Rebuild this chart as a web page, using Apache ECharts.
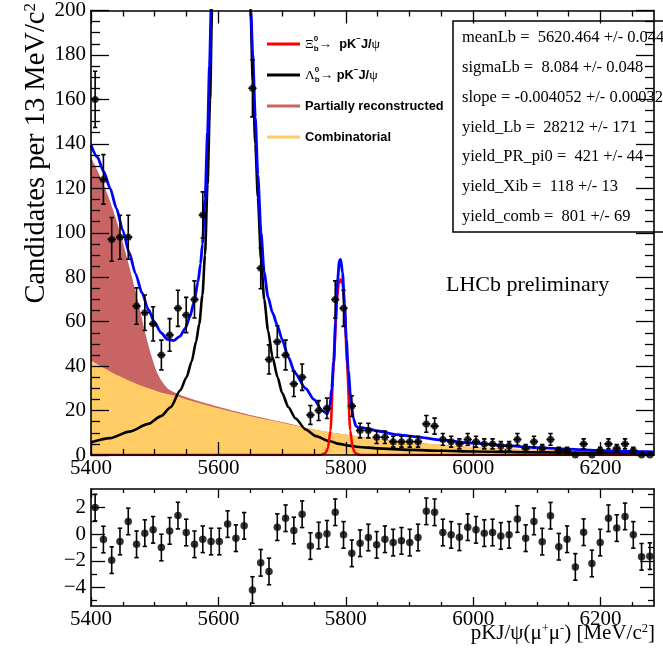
<!DOCTYPE html>
<html>
<head>
<meta charset="utf-8">
<script src="https://cdn.jsdelivr.net/npm/echarts@6/dist/echarts.min.js"></script>
<style>
  html, body { margin: 0; padding: 0; background: #fff; }
  #chart { width: 663px; height: 652px; }
</style>
</head>
<body>
<div id="chart"></div>
<script>
// Mass window and binning of the pK J/psi spectrum
const massMin = 5400;
const massMax = 6284;
const binWidth = 13;

// Candidates per 13 MeV bin
const counts = [
  160, 124, 97, 98, 98, 67, 64, 59, 45, 54,
  66, 63, 70, 108, 330, 2600, 7400, 3300, 290, 165,
  84, 43, 51, 45, 32, 35, 18, 20, 21, 70,
  66, 22, 11, 11, 8, 8, 6, 6, 6, 6,
  14, 13, 7, 6, 5, 7, 6, 5, 5, 4,
  4, 7, 3, 6, 3, 7, 2, 2, 0, 5,
  0, 2, 5, 3, 5, 2, 0, 0
];

// Pull of each bin with respect to the total fit
const pulls = [
  2.0, -0.4, -1.95, -0.55, 0.96, -0.76, 0.08, 0.33, -1.0, 0.25,
  1.4, 0.13, -0.76, -0.38, -0.55, -0.55, 0.76, -0.3, 0.63, -4.2,
  -2.15, -2.8, 0.53, 1.2, 0.28, 1.5, -0.89, -0.1, 0.03, 1.65,
  -0.05, -1.44, -0.68, -0.25, -0.8, -0.38, -0.63, -0.5, -0.63, -0.25,
  1.72, 1.65, 0.13, -0.05, -0.23, 0.53, 0.33, 0.08, 0.13, -0.13,
  -0.05, 1.14, -0.3, 0.96, -0.56, 1.39, -0.94, -0.38, -2.46, 0.15,
  -2.2, -0.63, 1.2, 0.46, 1.34, -0.05, -1.7, -1.65
];

// Total fit model
const totalMass = [
  5400, 5410, 5420, 5430, 5440, 5450, 5460, 5470, 5480, 5490,
  5500, 5510, 5520, 5530, 5540, 5548, 5555, 5562, 5568, 5572,
  5575, 5579, 5583, 5586, 5589, 5595, 5605, 5620, 5635, 5645,
  5651, 5654, 5658, 5662, 5667, 5672, 5678, 5685, 5693, 5700,
  5710, 5720, 5737, 5750, 5763, 5771, 5775, 5778, 5781, 5784,
  5787, 5790, 5792, 5795, 5798, 5801, 5804, 5808, 5812, 5816,
  5820, 5826, 5832, 5850, 5880, 5910, 5950, 6000, 6050, 6100,
  6150, 6200, 6250, 6284
];
const totalFit = [
  139.5, 134, 127.5, 120, 111, 101, 91, 81.5, 73, 65.5,
  59.5, 55, 52, 51.5, 53.5, 57, 62, 69, 78, 86,
  95, 115, 145, 175, 205, 330, 2500, 18000, 2500, 400,
  200, 180, 152, 126, 100, 82, 71, 64, 58, 52,
  44, 37, 30, 25, 20, 18.5, 22, 30, 42, 60,
  78, 87.5, 88, 82, 68, 52, 38, 25, 16.5, 13,
  12.3, 12.3, 12, 10.8, 9.2, 8.2, 6.8, 5.3, 4.2, 3.3,
  2.6, 2.0, 1.6, 1.4
];

// Lambda_b -> pK-J/psi component
const lbMass = [
  5400, 5430, 5460, 5490, 5510, 5525, 5540, 5550, 5558, 5565,
  5570, 5575, 5579, 5583, 5587, 5590, 5596, 5605, 5620, 5635,
  5645, 5650.5, 5654, 5658, 5662, 5667, 5672, 5678, 5685, 5693,
  5700, 5710, 5721, 5737, 5753, 5774, 5790, 5805, 5820, 5850,
  5900, 5950, 6000, 6100, 6200, 6284
];
const lbFit = [
  5.7, 7.6, 10.5, 14, 17.5, 21.5, 29, 35, 42, 51,
  59, 72, 90, 122, 160, 200, 340, 2500, 18000, 2500,
  380, 200, 168, 140, 116, 88, 70, 56, 44, 35,
  28, 21.5, 16.5, 11.5, 8.5, 6.3, 5.0, 4.2, 3.6, 3.0,
  2.3, 1.9, 1.6, 1.2, 0.9, 0.7
];

// Xi_b -> pK-J/psi component
const xibMass = [
  5400, 5760, 5768, 5772, 5776, 5781, 5786, 5789, 5792, 5795,
  5798, 5802, 5807, 5811, 5815, 5823, 6284
];
const xibFit = [
  0, 0, 0.8, 3, 11, 40, 70, 77, 79, 77,
  68, 41, 11, 3, 0.8, 0, 0
];

// Background components: combinatorial, and partially reconstructed drawn on top of it
const bkgMass = [
  5400, 5415, 5430, 5445, 5460, 5475, 5490, 5505, 5520, 5534,
  5550, 5600, 5650, 5700, 5750, 5800, 5850, 5900, 6000, 6100,
  6200, 6284
];
const combFit = [
  42.5, 40, 37.6, 35.4, 33.4, 31.6, 30, 28.6, 27.4, 26.5,
  25, 21, 17.5, 14.5, 11.5, 9.2, 7.2, 5.7, 3.6, 2.4,
  1.6, 1.1
];
const prFit = [
  91.5, 85, 76.5, 65.5, 51.5, 36, 19.5, 7.7, 2.6, 1.3,
  1.0, 0.7, 0.5, 0.3, 0, 0, 0, 0, 0, 0,
  0, 0
];

// Axis ticks
const massTicks = [5400, 5600, 5800, 6000, 6200];
const massMinorTicks = [5450, 5500, 5550, 5650, 5700, 5750, 5850, 5900, 5950, 6050, 6100, 6150, 6250];
const countTicks = [0, 20, 40, 60, 80, 100, 120, 140, 160, 180, 200];
const countMinorTicks = [5, 10, 15, 25, 30, 35, 45, 50, 55, 65, 70, 75, 85, 90, 95, 105, 110, 115,
  125, 130, 135, 145, 150, 155, 165, 170, 175, 185, 190, 195];
const pullTicks = [-4, -2, 0, 2];
const pullMinorTicks = [-5, -3, -1, 1, 3];
const pullRange = [-5.4, 3.4];

// Fit results
const paramLines = [
  'meanLb =  5620.464 +/- 0.044',
  'sigmaLb =  8.084 +/- 0.048',
  'slope = -0.004052 +/- 0.00032',
  'yield_Lb =  28212 +/- 171',
  'yield_PR_pi0 =  421 +/- 44',
  'yield_Xib =  118 +/- 13',
  'yield_comb =  801 +/- 69'
];

const SERIF = '"Liberation Serif", "Times New Roman", serif';
const SANS = '"Liberation Sans", Arial, sans-serif';
const C_XIB = '#ff0000', C_LB = '#000000', C_PR = '#c86464', C_COMB = '#ffcc66', C_TOT = '#0000ff';

const zip = (xs, ys) => xs.map((x, i) => [x, ys[i]]);
const binCenters = counts.map((_, i) => massMin + binWidth * (i + 0.5));
const pointData = counts.map((n, i) => [binCenters[i], n, Math.sqrt(n), n > 0 ? Math.sqrt(n) : 1.15]);
const pullData = pulls.map((p, i) => [binCenters[i], p, 1, 1]);
// upper edge of the partially reconstructed band sits on the combinatorial one
const prBand = bkgMass.map((m, i) => [m, combFit[i] + prFit[i]]);

const minusFmt = v => (v < 0 ? '\u2212' + Math.abs(v) : String(v));

// Four axes per dimension: labelled side (major + minor ticks) and mirrored side (major + minor)
function frameAxes(dim, gridIndex, range, major, minor, cfg) {
  const sides = dim === 'x' ? ['bottom', 'top'] : ['left', 'right'];
  const out = [];
  sides.forEach((side, s) => {
    [major, minor].forEach((ticks, m) => {
      out.push({
        type: 'value', gridIndex, min: range[0], max: range[1], position: side, z: 10,
        axisLine: { show: m === 0, onZero: false, lineStyle: { color: '#000', width: 1.6 } },
        axisTick: {
          show: true, inside: true, customValues: ticks,
          length: m === 0 ? cfg.majorLen : cfg.minorLen,
          lineStyle: { color: '#000', width: 1.3 }
        },
        axisLabel: Object.assign({
          show: s === 0 && m === 0, customValues: major,
          fontFamily: SERIF, color: '#000', formatter: minusFmt
        }, cfg.label),
        splitLine: { show: false },
        axisPointer: { show: false }
      });
    });
  });
  return out;
}

function errorBars(halfWidth, cap) {
  return function (params, api) {
    const x = api.value(0), y = api.value(1);
    const mid = api.coord([x, y]);
    const top = api.coord([x, y + api.value(3)]);
    const bot = api.coord([x, y - api.value(2)]);
    const st = { stroke: '#000', lineWidth: 1.6 };
    const kids = [
      { type: 'line', shape: { x1: mid[0], y1: top[1], x2: mid[0], y2: bot[1] }, style: st },
      { type: 'line', shape: { x1: mid[0] - cap, y1: top[1], x2: mid[0] + cap, y2: top[1] }, style: st },
      { type: 'line', shape: { x1: mid[0] - cap, y1: bot[1], x2: mid[0] + cap, y2: bot[1] }, style: st }
    ];
    if (halfWidth) {
      const l = api.coord([x - halfWidth, y]), r = api.coord([x + halfWidth, y]);
      kids.push({ type: 'line', shape: { x1: l[0], y1: mid[1], x2: r[0], y2: mid[1] }, style: st });
    }
    return { type: 'group', children: kids };
  };
}

const legendText = {
  xib: '{g|\u039E}{s0|0}{sb|b}{g|\u2192}  pK{sm|\u2212}J/{g|\u03C8}',
  lb: '{g|\u039B}{s0|0}{sb|b}{g|\u2192} pK{sm|\u2212}J/{g|\u03C8}',
  pr: 'Partially reconstructed',
  comb: 'Combinatorial'
};

const curve = (name, data, color, width, z) => ({
  name, type: 'line', xAxisIndex: 0, yAxisIndex: 0, data,
  smooth: 0.25, smoothMonotone: 'x', symbol: 'none', color,
  lineStyle: { width, color }, z
});

const chart = echarts.init(document.getElementById('chart'));

chart.setOption({
  animation: false,
  backgroundColor: '#fff',
  grid: [
    { left: 91, right: 9, top: 10, height: 445 },
    { left: 91, right: 9, top: 489, height: 117 }
  ],
  xAxis: [].concat(
    frameAxes('x', 0, [massMin, massMax], massTicks, massMinorTicks,
      { majorLen: 13, minorLen: 6, label: { fontSize: 21, margin: 3 } }),
    frameAxes('x', 1, [massMin, massMax], massTicks, massMinorTicks,
      { majorLen: 9, minorLen: 4, label: { fontSize: 21, margin: 3 } })
  ),
  yAxis: [].concat(
    frameAxes('y', 0, [0, 200], countTicks, countMinorTicks,
      { majorLen: 18, minorLen: 9, label: { fontSize: 21, margin: 5 } }),
    frameAxes('y', 1, pullRange, pullTicks, pullMinorTicks,
      { majorLen: 14, minorLen: 6, label: { fontSize: 21, margin: 5 } })
  ),
  legend: {
    orient: 'vertical', left: 262, top: 30, itemGap: 13,
    itemWidth: 33, itemHeight: 3, icon: 'rect', selectedMode: false,
    data: ['xib', 'lb', 'pr', 'comb'],
    formatter: name => legendText[name],
    textStyle: {
      fontFamily: SANS, fontWeight: 'bold', fontSize: 12.8, color: '#000', lineHeight: 18,
      rich: {
        g: { fontFamily: SERIF, fontWeight: 'normal', fontSize: 13.5, lineHeight: 18 },
        s0: { fontFamily: SANS, fontWeight: 'bold', fontSize: 8, verticalAlign: 'top', width: 0, lineHeight: 9 },
        sb: { fontFamily: SANS, fontWeight: 'bold', fontSize: 8, verticalAlign: 'bottom', lineHeight: 9 },
        sm: { fontFamily: SANS, fontWeight: 'bold', fontSize: 8, verticalAlign: 'top', lineHeight: 12 }
      }
    }
  },
  graphic: [
    {
      type: 'rect', z: 3, shape: { x: 453, y: 21, width: 300, height: 211 },
      style: { fill: '#fff', stroke: '#000', lineWidth: 1.5 }
    },
    {
      type: 'text', z: 4, x: 462, y: 23,
      style: { text: paramLines.join('\n'), font: '16.5px ' + SERIF, lineHeight: 29.8, fill: '#000' }
    },
    {
      type: 'text', z: 4, x: 446, y: 285,
      style: { text: 'LHCb preliminary', font: '22px ' + SERIF, textVerticalAlign: 'middle', fill: '#000' }
    },
    {
      type: 'text', z: 4, x: 37, y: 3, rotation: Math.PI / 2,
      style: {
        text: 'Candidates per 13 MeV/c{sup|2}', font: '28.5px ' + SERIF, fill: '#000',
        textAlign: 'right', textVerticalAlign: 'middle',
        rich: { sup: { font: '17px ' + SERIF, verticalAlign: 'top' } }
      }
    },
    {
      type: 'text', z: 4, x: 655, y: 633,
      style: {
        text: 'pKJ/\u03C8(\u03BC{sup|+}\u03BC{sup|-}) [MeV/c{sup|2}]', font: '21px ' + SERIF, fill: '#000',
        textAlign: 'right', textVerticalAlign: 'middle',
        rich: { sup: { font: '12.5px ' + SERIF, verticalAlign: 'top' } }
      }
    }
  ],
  series: [
    {
      name: 'pr', type: 'line', xAxisIndex: 0, yAxisIndex: 0,
      data: prBand, smooth: 0.3, symbol: 'none',
      color: C_PR, lineStyle: { width: 0 }, areaStyle: { color: C_PR, opacity: 1 }, z: 1
    },
    {
      name: 'comb', type: 'line', xAxisIndex: 0, yAxisIndex: 0,
      data: zip(bkgMass, combFit), smooth: 0.3, symbol: 'none',
      color: C_COMB, lineStyle: { width: 0 }, areaStyle: { color: C_COMB, opacity: 1 }, z: 1
    },
    curve('lb', zip(lbMass, lbFit), C_LB, 2.6, 2),
    curve('xib', zip(xibMass, xibFit), C_XIB, 2.6, 2),
    curve('total', zip(totalMass, totalFit), C_TOT, 2.8, 3),
    {
      type: 'custom', xAxisIndex: 0, yAxisIndex: 0, clip: true, z: 4,
      renderItem: errorBars(binWidth / 2, 2.2), data: pointData, encode: { x: 0, y: 1 }
    },
    {
      type: 'scatter', xAxisIndex: 0, yAxisIndex: 0, clip: true, z: 5,
      symbol: 'circle', symbolSize: 7, itemStyle: { color: '#000' },
      data: pointData.map(d => [d[0], d[1]])
    },
    {
      type: 'custom', xAxisIndex: 4, yAxisIndex: 4, clip: true, z: 4,
      renderItem: errorBars(0, 2.2), data: pullData, encode: { x: 0, y: 1 }
    },
    {
      type: 'scatter', xAxisIndex: 4, yAxisIndex: 4, clip: true, z: 5,
      symbol: 'circle', symbolSize: 7.5, itemStyle: { color: '#000' },
      data: pullData.map(d => [d[0], d[1]])
    }
  ]
});
</script>
</body>
</html>
